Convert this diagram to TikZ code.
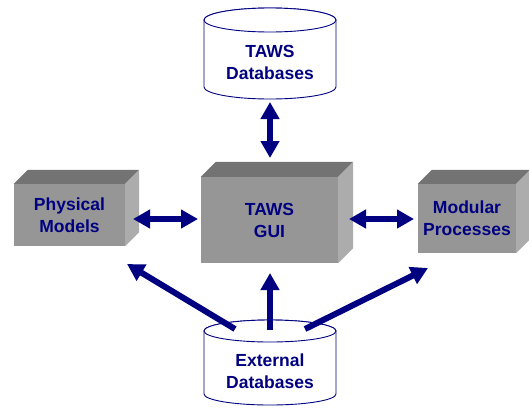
\documentclass[tikz,border=0pt]{standalone}
\usepackage{fontspec}
\setmainfont{Liberation Sans}
\usetikzlibrary{arrows.meta,calc}
\definecolor{navy}{RGB}{0,0,128}
\definecolor{frontgray}{RGB}{150,150,150}
\definecolor{topgray}{RGB}{115,115,115}
\definecolor{sidegray}{RGB}{172,172,172}

% top and right faces of a block, #1 = node, #2 = depth
\newcommand\extrude[2]{%
  \fill[topgray] (#1.north west) -- ++(#2,#2) -- ($(#1.north east)+(#2,#2)$) -- (#1.north east) -- cycle;
  \fill[sidegray] (#1.north east) -- ++(#2,#2) -- ($(#1.south east)+(#2,#2)$) -- (#1.south east) -- cycle;
}
% database drum: #1 = centre x, #2 = top y, #3 = bottom y, #4 = x radius, #5 = y radius
\newcommand\drum[5]{%
  \path[dbwall] (#1-#4,#2) -- (#1-#4,#3)
    arc[start angle=180,end angle=360,x radius=#4,y radius=#5] -- (#1+#4,#2)
    arc[start angle=0,end angle=180,x radius=#4,y radius=#5] -- cycle;
  \draw[dbwall] (#1,#2) ellipse[x radius=#4,y radius=#5];
}

\begin{document}
\begin{tikzpicture}[x=1pt,y=1pt,
  lbl/.style={font=\fontsize{17.5}{22}\selectfont\bfseries, text=navy, align=center},
  block/.style={fill=frontgray, inner sep=0pt, lbl},
  tip/.style={},
  link/.style={draw=navy, line width=6pt, -{Triangle[width=18pt,length=17pt]}},
  dlink/.style={draw=navy, line width=6pt, {Triangle[width=18pt,length=17pt]}-{Triangle[width=18pt,length=17pt]}},
  dbwall/.style={draw=navy, line width=0.9pt, fill=white}]

\useasboundingbox (0,0) rectangle (529,-407);

% blocks
\node[block, minimum width=111pt, minimum height=62pt] (phys) at (69.5,-215) {Physical\\Models};
\extrude{phys}{14}
\node[block, minimum width=137pt, minimum height=86pt] (gui) at (269.5,-220) {TAWS\\GUI};
\extrude{gui}{15}
\node[block, minimum width=98pt, minimum height=69pt] (mod) at (467,-218.5) {Modular\\Processes};
\extrude{mod}{14}

% databases
\drum{270}{-20}{-87}{66}{12}
\node[lbl] (tawsdb) at (270,-62.5) {TAWS\\Databases};
\drum{270}{-331}{-394}{66}{11}
\node[lbl] (extdb) at (270,-371) {External\\Databases};

% connector end points
\coordinate (tdbfoot) at (270,-102);
\coordinate (guihead) at (270,-158);
\coordinate (physport) at (133,-219);
\coordinate (guiwest) at (198,-219);
\coordinate (guieast) at (349,-219);
\coordinate (modport) at (414,-219);
\coordinate (extleft) at (235,-329);
\coordinate (extmid) at (270,-330);
\coordinate (extright) at (305,-329);
\coordinate (physfoot) at (127,-264);
\coordinate (guifoot) at (270,-273);
\coordinate (modfoot) at (428,-268);

% connectors
\draw[dlink] (tdbfoot) -- (guihead);
\draw[dlink] (physport) -- (guiwest);
\draw[dlink] (guieast) -- (modport);
\draw[link] (extleft) -- (physfoot);
\draw[link] (extmid) -- (guifoot);
\draw[link] (extright) -- (modfoot);
\end{tikzpicture}
\end{document}
